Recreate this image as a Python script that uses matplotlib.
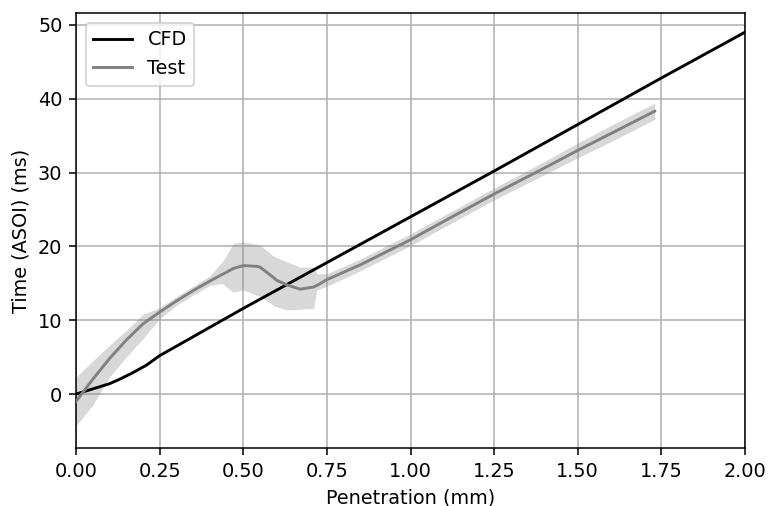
import numpy as np
import matplotlib
matplotlib.use("Agg")
import matplotlib.pyplot as plt

cfd_x = [0.0, 0.05, 0.10, 0.13, 0.17, 0.21, 0.25, 0.50, 0.75, 1.00, 1.25, 1.50, 1.75, 2.00]
cfd_y = [0.0, 0.7, 1.4, 2.0, 2.9, 3.9, 5.2, 11.6, 17.8, 24.0, 30.2, 36.5, 42.8, 49.0]

test_x = [0.0, 0.05, 0.10, 0.15, 0.20, 0.25, 0.30, 0.35, 0.40, 0.437, 0.45, 0.47, 0.50, 0.54, 0.55, 0.59, 0.60, 0.63, 0.67, 0.71, 0.72, 0.75, 0.85, 1.00, 1.10, 1.25, 1.40, 1.50, 1.60, 1.73]
test_y = [-1.0, 2.0, 4.8, 7.3, 9.5, 11.1, 12.6, 14.0, 15.3, 16.2, 16.5, 17.0, 17.4, 17.3, 17.2, 15.8, 15.4, 14.8, 14.2, 14.5, 14.7, 15.5, 17.5, 20.9, 23.4, 27.1, 30.6, 33.0, 35.3, 38.3]
test_lo = [-4.3, -1.5, 2.3, 5.0, 7.5, 10.2, 12.0, 13.4, 14.7, 15.0, 14.5, 13.8, 14.1, 13.4, 13.3, 12.0, 11.8, 11.4, 11.5, 11.6, 14.1, 14.6, 16.7, 20.1, 22.6, 26.3, 29.7, 32.0, 34.2, 37.2]
test_hi = [2.3, 4.5, 6.6, 8.6, 10.8, 11.7, 13.2, 14.6, 16.0, 17.9, 18.8, 20.4, 20.6, 20.3, 20.2, 18.7, 18.5, 17.9, 17.2, 17.2, 16.3, 16.3, 18.3, 21.7, 24.2, 27.9, 31.5, 34.0, 36.4, 39.4]

D = 139
fig = plt.figure(figsize=(769 / D, 506 / D), dpi=D)
ax = fig.add_axes([76/769, 1-448/506, (745-76)/769, (448-13)/506])

ax.fill_between(test_x, test_lo, test_hi, color='gray', alpha=0.3, linewidth=0, zorder=2)
ax.plot(cfd_x, cfd_y, color='black', linewidth=1.5, label='CFD', zorder=3)
ax.plot(test_x, test_y, color='gray', linewidth=1.5, label='Test', zorder=3)

ax.set_xlim(0, 2.0)
ax.set_ylim(-7.3, 51.6)
ax.set_xticks(np.arange(0, 2.01, 0.25))
ax.set_yticks([0, 10, 20, 30, 40, 50])
ax.grid(True, color='#b0b0b0', linewidth=0.8, zorder=0)
ax.set_axisbelow(True)
ax.tick_params(labelsize=10)
ax.set_xlabel('Penetration (mm)', fontsize=10)
ax.set_ylabel('Time (ASOI) (ms)', fontsize=10)
ax.legend(loc='upper left', fontsize=10)

fig.savefig('out.png', dpi=D)
